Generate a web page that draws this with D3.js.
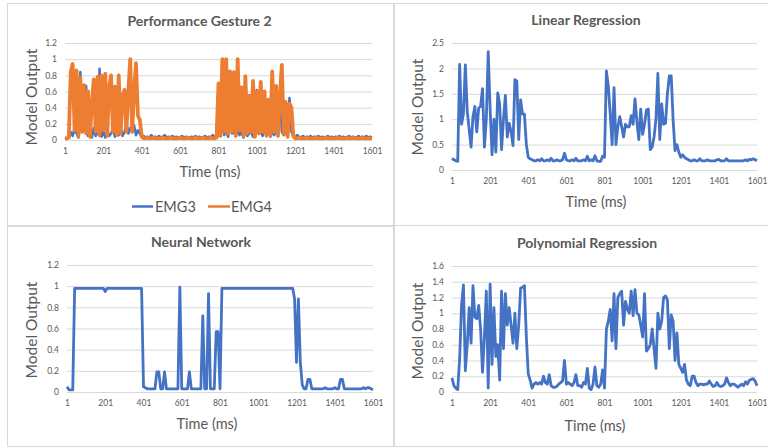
<!DOCTYPE html>
<html><head><meta charset="utf-8">
<script src="https://cdn.jsdelivr.net/npm/d3@7"></script>
<style>body{margin:0;background:#fff}svg{display:block}</style>
</head><body><svg id="c" width="768" height="448"></svg>
<script>
// ---- sample times (ms), one sample every 10 ms, labelled 1..1601 ----
const times = d3.range(1, 1602, 10);
const xTickLabels = [1, 201, 401, 601, 801, 1001, 1201, 1401, 1601];
const yTicks12 = [0, 0.2, 0.4, 0.6, 0.8, 1, 1.2];
const yTicks25 = [0, 0.5, 1, 1.5, 2, 2.5];
const yTicks16 = [0, 0.2, 0.4, 0.6, 0.8, 1, 1.2, 1.4, 1.6];
const seriesNames = ["EMG3", "EMG4"];
const titles = ["Performance Gesture 2", "Linear Regression", "Neural Network", "Polynomial Regression"];

// ---- Performance Gesture 2 ----
const emg3 = [
0.03,0.02,0.03,0.1,0.05,0.15,0.08,0.03,0.84,0.1,
0.62,0.67,0.05,0.12,0.03,0.15,0.05,0.1,0.88,0.04,
0.1,0.03,0.12,0.05,0.08,0.15,0.04,0.1,0.06,0.14,
0.05,0.1,0.2,0.08,0.15,0.1,0.18,0.06,0.12,0.08,
0.04,0.05,0.03,0.04,0.03,0.06,0.03,0.04,0.03,0.05,
0.03,0.04,0.06,0.03,0.04,0.03,0.05,0.03,0.04,0.03,
0.03,0.05,0.03,0.04,0.03,0.03,0.04,0.03,0.05,0.03,
0.04,0.03,0.03,0.05,0.03,0.04,0.03,0.06,0.03,0.04,
0.05,0.1,0.15,0.06,0.12,0.04,0.18,0.08,0.1,0.05,
0.14,0.06,0.1,0.03,0.12,0.05,0.08,0.1,0.04,0.15,
0.62,0.58,0.1,0.05,0.12,0.08,0.15,0.04,0.1,0.06,
0.12,0.05,0.52,0.1,0.06,0.08,0.15,0.52,0.1,0.05,
0.03,0.06,0.04,0.03,0.05,0.03,0.04,0.03,0.05,0.03,
0.04,0.03,0.05,0.03,0.04,0.03,0.03,0.05,0.03,0.04,
0.03,0.04,0.03,0.05,0.03,0.04,0.03,0.03,0.05,0.03,
0.04,0.03,0.03,0.05,0.03,0.04,0.03,0.05,0.03,0.04,
0.03];
const emg4 = [
0.02,0.02,0.03,0.84,0.94,0.12,0.86,0.05,0.77,0.1,
0.68,0.08,0.6,0.04,0.45,0.75,0.1,0.78,0.06,0.8,
0.12,0.82,0.05,0.65,0.8,0.1,0.66,0.06,0.8,0.08,
0.55,0.62,0.1,0.6,1.0,0.1,0.6,0.95,0.3,0.25,
0.04,0.02,0.02,0.03,0.02,0.02,0.03,0.02,0.02,0.02,
0.02,0.03,0.02,0.02,0.02,0.03,0.02,0.02,0.02,0.02,
0.03,0.02,0.02,0.02,0.03,0.02,0.02,0.02,0.03,0.02,
0.02,0.02,0.03,0.02,0.02,0.02,0.03,0.02,0.02,0.03,
0.7,0.05,1.0,0.1,1.0,0.08,0.85,0.1,0.84,0.05,
1.0,0.12,0.65,0.05,0.79,0.08,0.55,0.1,0.73,0.04,
0.6,0.08,0.72,0.1,0.6,0.05,0.5,0.06,0.85,0.1,
0.67,0.05,0.55,0.93,0.08,0.47,0.04,0.45,0.4,0.05,
0.02,0.02,0.03,0.02,0.02,0.02,0.03,0.02,0.02,0.02,
0.02,0.03,0.02,0.02,0.02,0.02,0.03,0.02,0.02,0.02,
0.02,0.02,0.03,0.02,0.02,0.02,0.02,0.03,0.02,0.02,
0.03,0.02,0.02,0.02,0.02,0.03,0.02,0.02,0.02,0.02,
0.02];

// ---- Linear Regression ----
const linearReg = [
0.23,0.2,0.18,0.17,2.08,0.9,1.1,2.07,1.15,0.8,
0.45,1.05,1.25,0.75,1.22,1.25,1.6,0.45,1.0,2.33,
1.2,0.3,1.0,0.35,1.52,1.3,0.4,1.0,1.47,0.65,
0.92,0.75,0.48,1.78,1.75,0.6,1.38,1.1,1.1,0.5,
0.25,0.22,0.2,0.18,0.18,0.2,0.18,0.22,0.18,0.18,
0.2,0.18,0.23,0.18,0.18,0.2,0.18,0.18,0.2,0.33,
0.2,0.18,0.18,0.2,0.18,0.23,0.18,0.18,0.18,0.2,
0.18,0.27,0.18,0.2,0.18,0.28,0.18,0.17,0.17,0.27,
0.25,1.95,1.65,1.1,0.5,1.62,0.5,0.85,1.05,0.85,
0.65,0.9,0.85,0.85,1.07,0.9,1.4,0.95,0.6,1.2,
0.7,0.9,1.18,1.2,0.4,0.45,0.65,1.0,1.9,0.6,
1.3,0.9,0.92,1.5,1.85,1.85,0.98,0.38,0.5,0.35,
0.25,0.3,0.25,0.22,0.2,0.18,0.18,0.2,0.18,0.18,
0.22,0.18,0.18,0.18,0.2,0.18,0.18,0.18,0.18,0.2,
0.21,0.18,0.18,0.18,0.22,0.18,0.18,0.18,0.18,0.18,
0.18,0.18,0.18,0.18,0.2,0.18,0.21,0.2,0.22,0.2,
0.18];

// ---- Neural Network ----
const neuralNet = [
0.05,0.02,0.02,0.02,0.98,0.98,0.98,0.98,0.98,0.98,
0.98,0.98,0.98,0.98,0.98,0.98,0.98,0.98,0.98,0.98,
0.95,0.98,0.98,0.98,0.98,0.98,0.98,0.98,0.98,0.98,
0.98,0.98,0.98,0.98,0.98,0.98,0.98,0.98,0.98,0.98,
0.05,0.04,0.03,0.03,0.03,0.03,0.03,0.19,0.19,0.03,
0.03,0.19,0.03,0.03,0.03,0.03,0.03,0.03,0.03,0.99,
0.03,0.03,0.03,0.03,0.19,0.03,0.03,0.03,0.03,0.03,
0.03,0.72,0.03,0.03,0.93,0.03,0.03,0.03,0.57,0.57,
0.03,0.98,0.98,0.98,0.98,0.98,0.98,0.98,0.98,0.98,
0.98,0.98,0.98,0.98,0.98,0.98,0.98,0.98,0.98,0.98,
0.98,0.98,0.98,0.98,0.98,0.98,0.98,0.98,0.98,0.98,
0.98,0.98,0.98,0.98,0.98,0.98,0.98,0.98,0.98,0.88,
0.28,0.88,0.28,0.07,0.03,0.03,0.12,0.12,0.03,0.03,
0.03,0.03,0.03,0.03,0.03,0.04,0.03,0.03,0.03,0.03,
0.04,0.03,0.03,0.12,0.12,0.03,0.03,0.03,0.03,0.03,
0.03,0.03,0.03,0.03,0.03,0.04,0.03,0.04,0.04,0.03,
0.02];

// ---- Polynomial Regression ----
const polyReg = [
0.18,0.08,0.05,0.03,0.42,1.1,1.36,0.27,0.6,1.07,
0.62,1.35,0.95,0.93,1.1,0.8,0.25,0.7,1.28,0.05,
1.37,0.35,1.07,0.45,0.6,0.15,1.28,0.55,1.25,0.85,
1.07,0.85,0.62,1.0,0.55,0.85,1.32,1.33,1.35,0.7,
0.23,0.15,0.05,0.1,0.12,0.1,0.12,0.1,0.2,0.12,
0.1,0.22,0.08,0.06,0.06,0.07,0.1,0.12,0.14,0.4,
0.1,0.12,0.1,0.08,0.12,0.22,0.08,0.08,0.06,0.12,
0.1,0.3,0.05,0.03,0.1,0.32,0.08,0.06,0.1,0.28,
0.05,0.8,0.9,1.05,0.65,1.25,0.55,1.2,1.25,1.28,
0.85,1.15,1.05,1.0,1.28,0.97,1.3,1.0,0.98,0.85,
0.7,1.25,0.52,0.55,0.6,0.8,0.55,0.3,1.0,0.8,
0.9,1.2,1.22,1.17,0.55,0.98,0.9,0.4,0.75,0.35,
0.3,0.25,0.35,0.15,0.1,0.08,0.2,0.2,0.12,0.08,
0.1,0.1,0.09,0.1,0.1,0.14,0.1,0.07,0.08,0.12,
0.08,0.07,0.08,0.1,0.18,0.12,0.08,0.1,0.1,0.08,
0.06,0.08,0.1,0.08,0.13,0.1,0.15,0.16,0.17,0.14,
0.08];

const BLUE = "#4472C4", ORANGE = "#ED7D31", TXT = "#595959", GRID = "#d9d9d9";
const FONT = "Lato, 'Open Sans', sans-serif";

const panels = [
  {title: titles[0], box: [7.5, 3.5, 386, 222], plot: [65, 372, 140, 43], ymax: 1.2, yTicks: yTicks12,
   series: [{v: emg3, c: BLUE, w: 2.5}, {v: emg4, c: ORANGE, w: 3.8}],
   tPos: [199.5, 26], xtPos: [210, 177], ytPos: [37, 97], legend: true},
  {title: titles[1], box: [394.5, 3.5, 380, 222], plot: [452, 757, 170, 43], ymax: 2.5, yTicks: yTicks25,
   series: [{v: linearReg, c: BLUE, w: 2.8}],
   tPos: [586, 25], xtPos: [596, 207], ytPos: [423, 107]},
  {title: titles[2], box: [7.5, 226.5, 386, 220], plot: [67, 373, 392, 265], ymax: 1.2, yTicks: yTicks12,
   series: [{v: neuralNet, c: BLUE, w: 2.8}],
   tPos: [201, 247], xtPos: [207, 429], ytPos: [37, 330]},
  {title: titles[3], box: [394.5, 225.5, 380, 221], plot: [452, 757, 392, 266], ymax: 1.6, yTicks: yTicks16,
   series: [{v: polyReg, c: BLUE, w: 2.8}],
   tPos: [587, 248], xtPos: [595, 431], ytPos: [423, 331]}
];

const svg = d3.select("#c");

panels.forEach(p => {
  const g = svg.append("g");
  g.append("rect").attr("x", p.box[0]).attr("y", p.box[1]).attr("width", p.box[2]).attr("height", p.box[3])
    .attr("fill", "#fff").attr("stroke", GRID).attr("stroke-width", 1);

  const [x0, x1, y0, yt] = p.plot;
  const x = d3.scaleLinear().domain([1, 1601]).range([x0, x1]);
  const y = d3.scaleLinear().domain([0, p.ymax]).range([y0, yt]);

  const ya = g.append("g").attr("transform", `translate(${x0},0)`)
    .call(d3.axisLeft(y).tickValues(p.yTicks).tickSize(-(x1 - x0)).tickPadding(8).tickFormat(d3.format("~g")));
  ya.select(".domain").remove();
  ya.selectAll("line").attr("stroke", GRID);
  ya.selectAll("text").attr("fill", TXT).style("font-family", FONT).style("font-size", "8.5px");

  const xa = g.append("g").attr("transform", `translate(0,${y0})`)
    .call(d3.axisBottom(x).tickValues(xTickLabels).tickSize(0).tickPadding(8).tickFormat(d3.format("d")));
  xa.select(".domain").remove();
  xa.selectAll("text").attr("fill", TXT).style("font-family", FONT).style("font-size", "8.5px");

  const line = d3.line().x((d, i) => x(times[i])).y(d => y(d));
  p.series.forEach(s => {
    g.append("path").datum(s.v).attr("d", line).attr("fill", "none")
      .attr("stroke", s.c).attr("stroke-width", s.w).attr("stroke-linejoin", "round");
  });

  g.append("text").attr("x", p.tPos[0]).attr("y", p.tPos[1]).attr("text-anchor", "middle")
    .attr("fill", TXT).style("font-family", FONT).style("font-size", "14px").style("font-weight", "bold").text(p.title);
  g.append("text").attr("x", p.xtPos[0]).attr("y", p.xtPos[1]).attr("text-anchor", "middle")
    .attr("fill", TXT).style("font-family", FONT).style("font-size", "14.5px").text("Time (ms)");
  g.append("text").attr("transform", `translate(${p.ytPos[0]},${p.ytPos[1]}) rotate(-90)`).attr("text-anchor", "middle")
    .attr("fill", TXT).style("font-family", FONT).style("font-size", "15.5px").text("Model Output");

  if (p.legend) {
    const lg = [[132, 153, 155, BLUE], [208, 230, 231, ORANGE]];
    lg.forEach((l, i) => {
      g.append("line").attr("x1", l[0]).attr("x2", l[1]).attr("y1", 206.5).attr("y2", 206.5)
        .attr("stroke", l[3]).attr("stroke-width", 2.5);
      g.append("text").attr("x", l[2]).attr("y", 211.5).attr("fill", TXT)
        .style("font-family", FONT).style("font-size", "14.5px").text(seriesNames[i]);
    });
  }
});
</script>
</body></html>
